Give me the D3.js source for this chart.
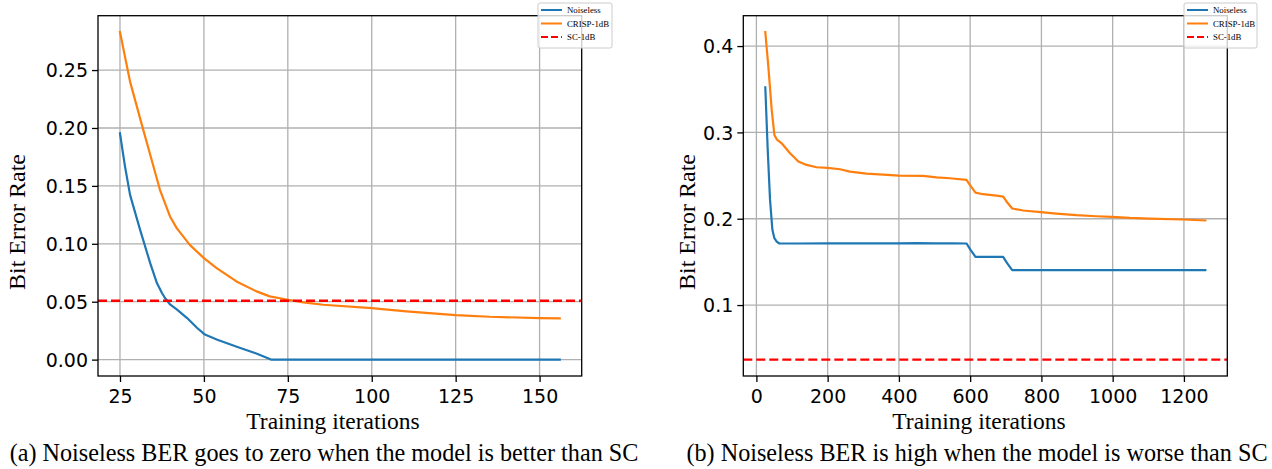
<!DOCTYPE html>
<html><head><meta charset="utf-8">
<script src="https://cdn.jsdelivr.net/npm/d3@7/dist/d3.min.js"></script>
<style>
body{margin:0;background:#fff;}
svg{display:block;}
</style></head>
<body>
<svg id="c" width="1272" height="469"></svg>
<script>
// ---- data: panel (a) ----
const aNoiselessX = [25, 26.5, 28, 31, 34, 36, 37.5, 38.4, 40, 42, 45, 48, 50.3, 54, 60, 66, 69.6, 70, 156];
const aNoiselessY = [0.1954, 0.1667, 0.1422, 0.112, 0.0833, 0.0661, 0.0575, 0.0532, 0.0474, 0.0431, 0.0359, 0.0273, 0.0216, 0.0172, 0.0109, 0.0049, 0.0006, 0, 0];
const aCrispX = [25, 28, 31.4, 33.9, 36.9, 39.9, 41.9, 45.8, 50, 53.8, 59.7, 65.7, 69.6, 75, 79.6, 85.5, 100, 110.3, 125, 135.1, 150, 156];
const aCrispY = [0.2828, 0.240, 0.204, 0.178, 0.1466, 0.1236, 0.1135, 0.0991, 0.0876, 0.079, 0.0675, 0.0589, 0.0546, 0.0517, 0.0494, 0.0474, 0.0445, 0.0417, 0.0385, 0.037, 0.0359, 0.0356];
const aSC = 0.0508;
const aXTicks = [25, 50, 75, 100, 125, 150];
const aYTicks = [0.00, 0.05, 0.10, 0.15, 0.20, 0.25];

// ---- data: panel (b) ----
const bNoiselessX = [25, 31.8, 38.3, 44.9, 50.5, 57, 64.5, 113, 200, 300, 400, 450, 500, 551, 590, 601, 615, 692.5, 703.7, 718, 800, 1000, 1260];
const bNoiselessY = [0.3522, 0.2797, 0.2218, 0.1871, 0.1775, 0.1736, 0.1713, 0.1713, 0.1714, 0.1715, 0.1714, 0.1717, 0.1715, 0.1716, 0.1713, 0.164, 0.1559, 0.1559, 0.1486, 0.1405, 0.1405, 0.1405, 0.1405];
const bCrispX = [25, 33.6, 43, 50.5, 57, 71, 94.4, 117.8, 141, 169, 200, 234.6, 262.6, 309, 356, 400, 468, 505.6, 543, 589.7, 599, 615, 636, 674, 692.5, 702, 718, 748.6, 798, 842, 898, 954, 998, 1047.7, 1103.7, 1197, 1260];
const bCrispY = [0.4162, 0.376, 0.326, 0.297, 0.292, 0.2874, 0.2758, 0.2662, 0.2623, 0.2596, 0.2589, 0.2573, 0.2546, 0.2523, 0.2511, 0.25, 0.2496, 0.248, 0.2469, 0.245, 0.2392, 0.2303, 0.2284, 0.2268, 0.2257, 0.220, 0.2118, 0.2095, 0.2076, 0.206, 0.2041, 0.2029, 0.2022, 0.201, 0.2002, 0.1991, 0.198];
const bSC = 0.0368;
const bXTicks = [0, 200, 400, 600, 800, 1000, 1200];
const bYTicks = [0.1, 0.2, 0.3, 0.4];

const seriesNames = ["Noiseless", "CRISP-1dB", "SC-1dB"];
const captions = ["(a) Noiseless BER goes to zero when the model is better than SC",
                  "(b) Noiseless BER is high when the model is worse than SC"];
const xLabel = "Training iterations";
const yLabel = "Bit Error Rate";

const BLUE = "#1f77b4", ORANGE = "#ff7f0e", RED = "#ff0000";
const svg = d3.select("#c");
const serif = "'Liberation Serif','Times New Roman',serif";
const sans = "'DejaVu Sans',sans-serif";

function pad(ext){ const m = (ext[1]-ext[0])*0.05; return [ext[0]-m, ext[1]+m]; }

function panel(o){
  const g = svg.append("g");
  const xs = o.series.flatMap(s => s.x);
  const ys = o.series.flatMap(s => s.y).concat([o.sc]);
  const x = d3.scaleLinear().domain(pad(d3.extent(xs))).range([o.left, o.right]);
  const y = d3.scaleLinear().domain(pad(d3.extent(ys))).range([o.bottom, o.top]);

  // grid
  g.append("g").selectAll("line").data(o.xTicks).join("line")
    .attr("x1", d=>x(d)).attr("x2", d=>x(d)).attr("y1", o.top).attr("y2", o.bottom)
    .attr("stroke", "#b0b0b0").attr("stroke-width", 1.3);
  g.append("g").selectAll("line").data(o.yTicks).join("line")
    .attr("y1", d=>y(d)).attr("y2", d=>y(d)).attr("x1", o.left).attr("x2", o.right)
    .attr("stroke", "#b0b0b0").attr("stroke-width", 1.3);

  // clip
  const cid = "clip"+o.id;
  svg.append("clipPath").attr("id", cid).append("rect")
    .attr("x", o.left).attr("y", o.top).attr("width", o.right-o.left).attr("height", o.bottom-o.top);
  const pg = g.append("g").attr("clip-path", `url(#${cid})`);

  const line = d3.line().x(d=>x(d[0])).y(d=>y(d[1]));
  o.series.forEach(s => {
    pg.append("path").datum(s.x.map((v,i)=>[v, s.y[i]]))
      .attr("d", line).attr("fill","none").attr("stroke", s.color)
      .attr("stroke-width", 2.2).attr("stroke-linejoin","round").attr("stroke-linecap","square");
  });
  pg.append("line").attr("x1", o.left).attr("x2", o.right)
    .attr("y1", y(o.sc)).attr("y2", y(o.sc))
    .attr("stroke", RED).attr("stroke-width", 2.4).attr("stroke-dasharray", "9,4");

  // axes
  const xa = g.append("g").attr("transform", `translate(0,${o.bottom})`)
    .call(d3.axisBottom(x).tickValues(o.xTicks).tickFormat(d3.format("d")).tickSize(6).tickPadding(4));
  const ya = g.append("g").attr("transform", `translate(${o.left},0)`)
    .call(d3.axisLeft(y).tickValues(o.yTicks).tickFormat(d3.format(o.yFmt)).tickSize(6).tickPadding(4));
  [xa, ya].forEach(a => {
    a.select(".domain").remove();
    a.selectAll("line").attr("stroke","#000").attr("stroke-width",1.3);
    a.selectAll("text").attr("font-family", sans).attr("font-size", 19).attr("fill","#000");
  });
  xa.selectAll("text").attr("dy", "0.9em");
  ya.selectAll("text").attr("dy", "0.36em");

  // spines
  g.append("rect").attr("x", o.left).attr("y", o.top).attr("width", o.right-o.left)
    .attr("height", o.bottom-o.top).attr("fill","none").attr("stroke","#000").attr("stroke-width",1.3);

  // labels
  g.append("text").attr("x", o.xLabelX).attr("y", 429).attr("text-anchor","middle")
    .attr("font-family", serif).attr("font-size", 23.5).text(xLabel);
  g.append("text").attr("transform", `translate(${o.yLabelX},222) rotate(-90)`)
    .attr("text-anchor","middle").attr("font-family", serif).attr("font-size", 24).text(yLabel);
  g.append("text").attr("x", o.capX).attr("y", 461).attr("text-anchor","middle")
    .attr("font-family", serif).attr("font-size", 24.2).text(o.caption);

  // legend
  const lg = g.append("g").attr("transform", `translate(${o.legX},3)`);
  lg.append("rect").attr("x",0).attr("y",0).attr("width", o.legW).attr("height", 45)
    .attr("rx", 2).attr("fill","#fff").attr("fill-opacity",0.8).attr("stroke","#cccccc").attr("stroke-width",1);
  const items = [{c:BLUE, d:null},{c:ORANGE, d:null},{c:RED, d:"7,3"}];
  items.forEach((it,i) => {
    const yy = 7 + i*13.5;
    lg.append("line").attr("x1", 3).attr("x2", 24).attr("y1", yy).attr("y2", yy)
      .attr("stroke", it.c).attr("stroke-width", 2).attr("stroke-dasharray", it.d);
    lg.append("text").attr("x", 29).attr("y", yy).attr("dy","0.35em")
      .attr("font-family", serif).attr("font-size", 8.8).text(seriesNames[i]);
  });
}

panel({id:"a", left:98, right:581.7, top:15.7, bottom:376,
  series:[{x:aNoiselessX, y:aNoiselessY, color:BLUE},{x:aCrispX, y:aCrispY, color:ORANGE}],
  sc:aSC, xTicks:aXTicks, yTicks:aYTicks, yFmt:".2f",
  xLabelX:333, yLabelX:25, capX:324, caption:captions[0], legX:538, legW:74});

panel({id:"b", left:743.3, right:1227.3, top:15.7, bottom:376,
  series:[{x:bNoiselessX, y:bNoiselessY, color:BLUE},{x:bCrispX, y:bCrispY, color:ORANGE}],
  sc:bSC, xTicks:bXTicks, yTicks:bYTicks, yFmt:".1f",
  xLabelX:979, yLabelX:695, capX:977, caption:captions[1], legX:1184, legW:73});
</script>
</body></html>
